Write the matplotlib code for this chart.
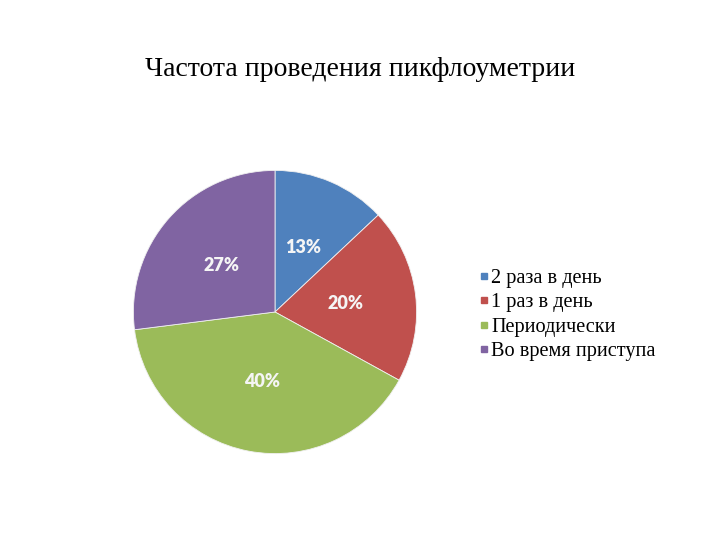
import matplotlib
matplotlib.use('Agg')
import matplotlib.pyplot as plt
from matplotlib.lines import Line2D

# данные
labels = ['2 раза в день', '1 раз в день', 'Периодически', 'Во время приступа']
values = [13, 20, 40, 27]
colors = ['#4F81BD', '#C0504D', '#9BBB59', '#8064A2']
title = 'Частота проведения пикфлоуметрии'

fig = plt.figure(figsize=(7.2, 5.4), dpi=100)
fig.patch.set_facecolor('white')

# круг: центр (275, 312) px, радиус ~143 px
cx, cy, r = 275, 312, 143
ax = fig.add_axes([(cx - r) / 720, (540 - cy - r) / 540, 2 * r / 720, 2 * r / 540])
wedges, texts, autotexts = ax.pie(values, colors=colors, startangle=90, counterclock=False,
                                  autopct='%d%%', pctdistance=0.5, radius=1,
                                  wedgeprops=dict(edgecolor='#f0f0f0', linewidth=0.6))
for t in autotexts:
    t.set_color('#F5F5F5')
    t.set_fontsize(13)
    t.set_fontweight('heavy')
    t.set_fontfamily(['Lato', 'DejaVu Sans'])
ax.set_xlim(-1.01, 1.01)
ax.set_ylim(-1.01, 1.01)
ax.set_aspect('equal')

fig.text(360 / 720, 1 - 70 / 540, title, ha='center', va='center',
         fontsize=20, family=['Liberation Serif', 'DejaVu Serif'])

handles = [Line2D([], [], marker='s', linestyle='none', markersize=4.5,
                  markerfacecolor=c, markeredgecolor=c) for c in colors]
fig.legend(handles, labels, loc='center left', bbox_to_anchor=(461 / 720, 1 - 315 / 540),
           frameon=False, handlelength=0.5, handletextpad=0.1, labelspacing=0.25,
           prop={'family': ['Liberation Serif', 'DejaVu Serif'], 'size': 14.6})

fig.savefig('out.png', dpi=100)
